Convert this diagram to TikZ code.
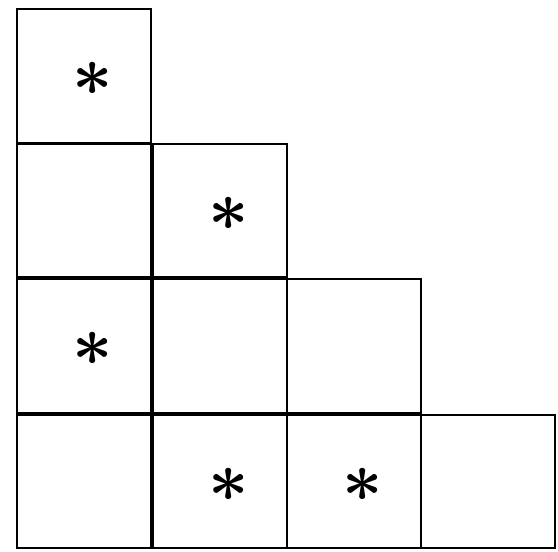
\documentclass[tikz,border=0pt]{standalone}
\begin{document}
\begin{tikzpicture}[x=0.05cm,y=-0.05cm,cell/.style={draw=black,line width=0.1cm,minimum width=6.7cm,minimum height=6.7cm,inner sep=0pt},ast/.style={inner sep=0pt}]
\useasboundingbox (0,0) rectangle (558,552);
\foreach \r/\y in {1/76,2/210.5,3/346,4/481.5}{\foreach \c/\x in {1/84,2/220,3/354,4/488}{\ifnum\c>\r\else\node[cell] (c\r\c) at (\x,\y) {};\fi}}
\foreach \n in {11,22,31,42,43}{\node[ast] (s\n) at ([xshift=0.45cm,yshift=-0.15cm]c\n.center) {\scalebox{10}{\boldmath$\ast$}};}
\end{tikzpicture}
\end{document}
